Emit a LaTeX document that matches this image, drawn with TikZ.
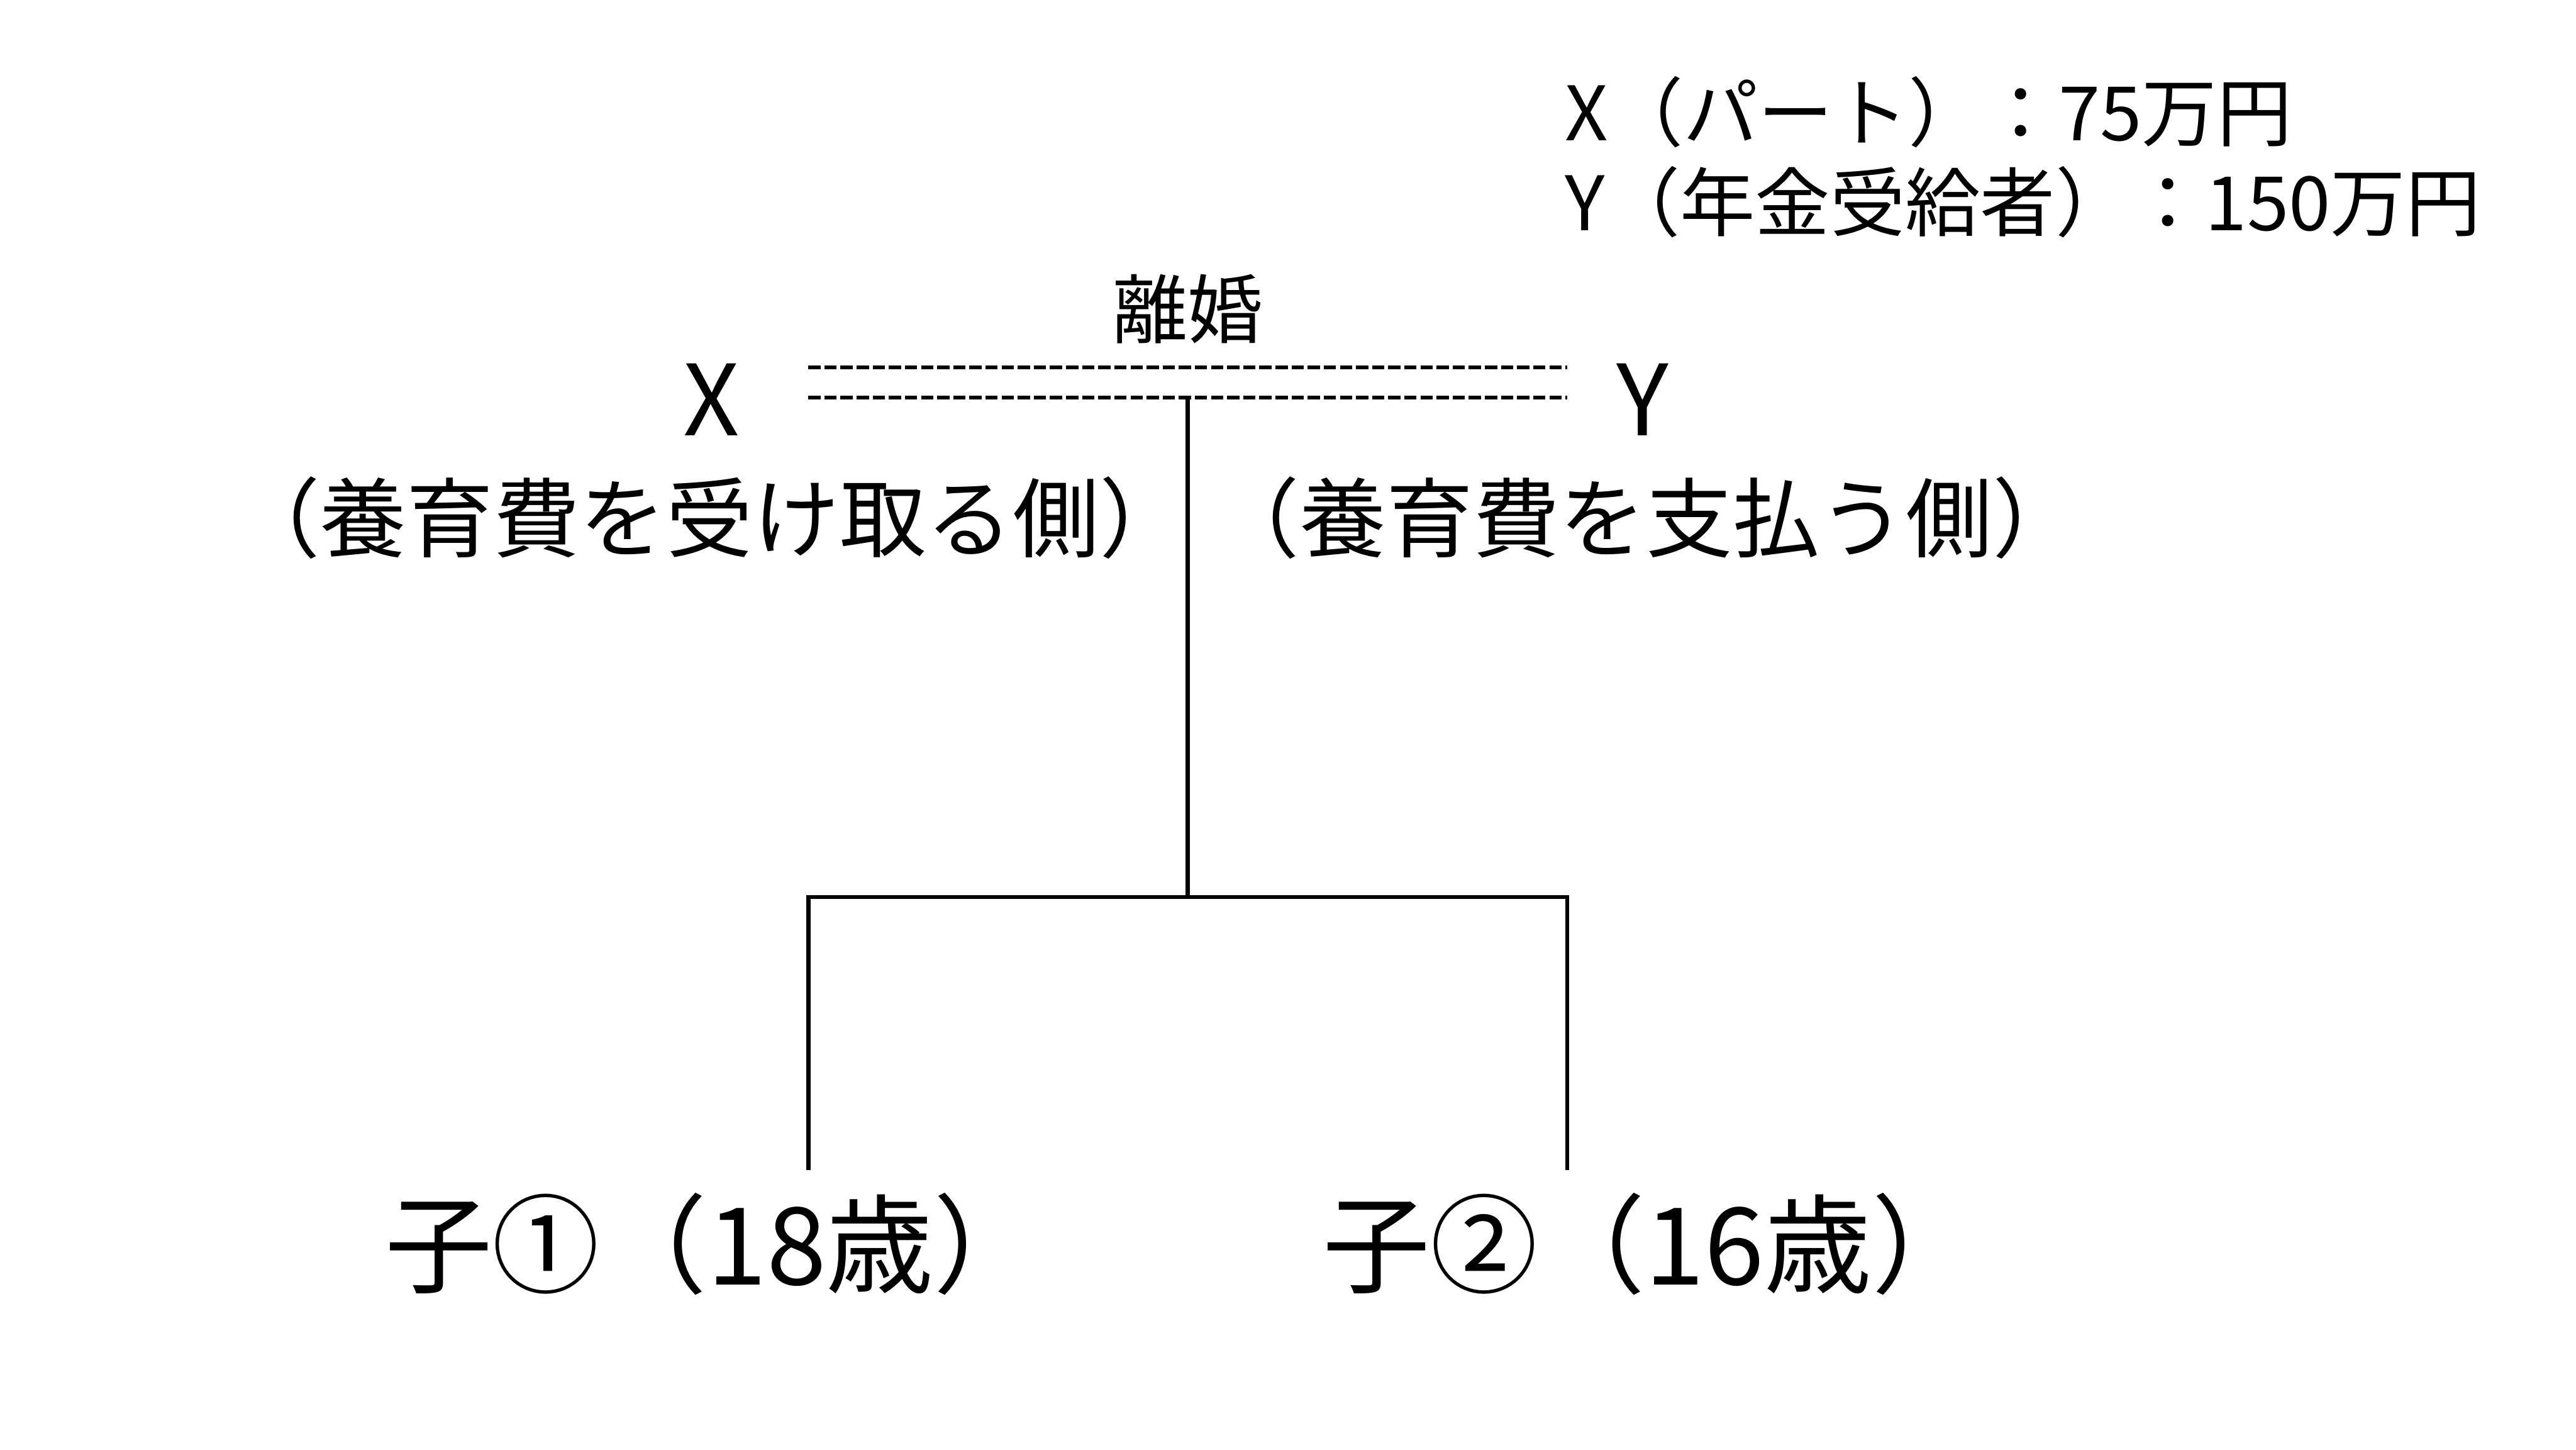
\documentclass[tikz,border=0pt]{standalone}
\usepackage{fontspec}
\setmainfont{Noto Sans CJK JP}
\usetikzlibrary{calc}

\tikzset{
  tree/.style={line width=0.72pt},
  divorce/.style={line width=0.72pt, dash pattern=on 2.12pt off 0.67pt},
  person/.style={inner sep=0pt, font=\fontsize{17}{20}\selectfont},
  role/.style={inner sep=0pt, font=\fontsize{15}{18}\selectfont},
  child/.style={inner sep=0pt, font=\fontsize{18.6}{21}\selectfont},
  note/.style={inner sep=0pt, font=\fontsize{13}{15.6}\selectfont},
}

\begin{document}
\begin{tikzpicture}
    \useasboundingbox (0,0) rectangle (15.68,-8.82);
    \coordinate (dashL1) at (4.92,-2.236);
    \coordinate (dashR1) at (9.54,-2.236);
    \coordinate (dashL2) at (4.92,-2.419);
    \coordinate (dashR2) at (9.54,-2.419);
    \coordinate (top) at (7.23,-2.419);
    \coordinate (fork) at (7.23,-5.459);
    \coordinate (forkL) at (4.92,-5.459);
    \coordinate (forkR) at (9.54,-5.459);
    \coordinate (legL) at (4.92,-7.12);
    \coordinate (legR) at (9.54,-7.12);
    % parents
    \node[person] (X) at (4.33,-2.43) {X};
    \node[person] (Y) at (10.00,-2.43) {Y};
    \node[role] (Xrole) at (4.32,-3.15) {（養育費を受け取る側）};
    \node[role] (Yrole) at (10.02,-3.15) {（養育費を支払う側）};
    \node[note] (rikon) at (7.23,-1.88) {離婚};
    \node[note, anchor=west, align=left] (income) at (9.52,-0.955) {X（パート）：75万円\\Y（年金受給者）：150万円};
    % divorce lines
    \foreach \i in {1,2} {\draw[divorce] (dashL\i) -- (dashR\i);}
    % children
    \draw[tree] (top) -- (fork);
    \draw[tree] (legL) -- (forkL) -- (forkR) -- (legR);
    \node[child] (child1) at (4.34,-7.57) {子①（18歳）};
    \node[child] (child2) at (10.05,-7.57) {子②（16歳）};
\end{tikzpicture}
\end{document}
